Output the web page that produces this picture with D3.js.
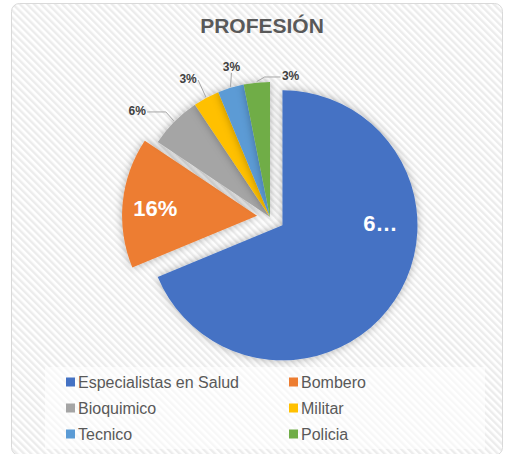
<!DOCTYPE html>
<html>
<head>
<meta charset="utf-8">
<script src="https://cdn.jsdelivr.net/npm/d3@7"></script>
<style>
  body { margin: 0; background: #ffffff; }
  text { font-family: "Liberation Sans", Arial, sans-serif; }
</style>
</head>
<body>
<div id="chart"></div>
<script>
// Data
var categories = ["Especialistas en Salud", "Bombero", "Bioquimico", "Militar", "Tecnico", "Policia"];
var counts = [22, 5, 2, 1, 1, 1];
var labels = ["6…", "16%", "6%", "3%", "3%", "3%"];
var colors = ["#4472C4", "#ED7D31", "#A5A5A5", "#FFC000", "#5B9BD5", "#70AD47"];

// Layout
var svgWidth = 507;
var svgHeight = 454;
var cx = 270, cy = 217, radius = 135;
var explode = [15, 13, 0, 0, 0, 0];
// label angle (deg from top) and distance from slice centre
var labelAngle = [89, 274, 308.6, 329.3, 345.6, 8.3];
var labelDist = [98, 102, 170, 160.5, 155, 142.5];
var inside = [true, true, false, false, false, false];

var svg = d3.select("#chart")
  .append("svg")
  .attr("width", svgWidth)
  .attr("height", svgHeight);

var defs = svg.append("defs");

// diagonal stripe texture
var pattern = defs.append("pattern")
  .attr("id", "stripes")
  .attr("width", 5)
  .attr("height", 5)
  .attr("patternUnits", "userSpaceOnUse")
  .attr("patternTransform", "rotate(-45)");
pattern.append("rect").attr("width", 5).attr("height", 5).attr("fill", "#ffffff");
pattern.append("line")
  .attr("x1", 1.2).attr("y1", 0).attr("x2", 1.2).attr("y2", 5)
  .attr("stroke", "#ececec")
  .attr("stroke-width", 2.4);

var shadow = defs.append("filter")
  .attr("id", "shadow")
  .attr("x", "-30%").attr("y", "-30%")
  .attr("width", "160%").attr("height", "160%");
shadow.append("feDropShadow")
  .attr("dx", 0).attr("dy", 0)
  .attr("stdDeviation", 4)
  .attr("flood-color", "#000")
  .attr("flood-opacity", 0.3);

// chart area
svg.append("rect")
  .attr("x", 11.5).attr("y", 3.5)
  .attr("width", 491).attr("height", 452)
  .attr("rx", 8)
  .attr("fill", "url(#stripes)")
  .attr("stroke", "#d9d9d9");

svg.append("text")
  .attr("x", 262)
  .attr("y", 33)
  .attr("text-anchor", "middle")
  .style("font-size", "21px")
  .style("font-weight", "bold")
  .style("fill", "#595959")
  .text("PROFESIÓN");

// Pie
var pie = d3.pie().sort(null).value(d => d);
var arcs = pie(counts);
var arc = d3.arc().innerRadius(0).outerRadius(radius);

var rad = deg => deg * Math.PI / 180;
function polar(a, r) { return [r * Math.sin(a), -r * Math.cos(a)]; }

var pieGroup = svg.append("g")
  .attr("transform", `translate(${cx}, ${cy})`);

pieGroup.selectAll("path")
  .data(arcs)
  .enter()
  .append("path")
  .attr("transform", (d, i) => {
    var p = polar((d.startAngle + d.endAngle) / 2, explode[i]);
    return `translate(${p[0]}, ${p[1]})`;
  })
  .attr("d", arc)
  .attr("fill", (d, i) => colors[i])
  .attr("filter", "url(#shadow)");

// leader lines for outside labels
arcs.forEach(function (d, i) {
  if (inside[i]) return;
  var lp = polar(rad(labelAngle[i]), labelDist[i]);
  var ap = polar((d.startAngle + d.endAngle) / 2, radius + 1);
  var dx = ap[0] - lp[0];
  var pts;
  if (Math.abs(dx) < 6) {
    pts = [[lp[0], lp[1] + 6], ap];
  } else {
    var s = Math.sign(dx);
    var x0 = lp[0] + s * 10;
    var elbow = x0 + s * Math.max(0, Math.abs(ap[0] - x0) - 8);
    pts = [[x0, lp[1] + 1], [elbow, lp[1] + 1], ap];
  }
  pieGroup.append("polyline")
    .attr("points", pts.map(p => p.join(",")).join(" "))
    .attr("fill", "none")
    .attr("stroke", "#a6a6a6")
    .attr("stroke-width", 1);
});

// data labels
pieGroup.selectAll(".lbl")
  .data(arcs)
  .enter()
  .append("text")
  .attr("class", "lbl")
  .attr("transform", (d, i) => {
    var e = polar((d.startAngle + d.endAngle) / 2, explode[i]);
    var p = polar(rad(labelAngle[i]), labelDist[i]);
    return `translate(${e[0] + p[0]}, ${e[1] + p[1]})`;
  })
  .attr("dy", "0.35em")
  .attr("text-anchor", "middle")
  .style("font-weight", "bold")
  .style("font-size", (d, i) => inside[i] ? "22px" : "12px")
  .style("fill", (d, i) => inside[i] ? "#ffffff" : "#404040")
  .text((d, i) => labels[i]);

// Legend
svg.append("rect")
  .attr("x", 45).attr("y", 367)
  .attr("width", 440).attr("height", 82)
  .attr("fill", "#ffffff")
  .attr("opacity", 0.6);

var legend = svg.append("g");
var legendItem = legend.selectAll("g")
  .data(categories)
  .enter()
  .append("g")
  .attr("transform", (d, i) => `translate(${i % 2 === 0 ? 66 : 289}, ${382 + Math.floor(i / 2) * 26})`);

legendItem.append("rect")
  .attr("x", 0).attr("y", -4.5)
  .attr("width", 9).attr("height", 9)
  .attr("fill", (d, i) => colors[i]);

legendItem.append("text")
  .attr("x", 12)
  .attr("dy", "0.35em")
  .style("font-size", "16px")
  .style("fill", "#595959")
  .text(d => d);
</script>
</body>
</html>
